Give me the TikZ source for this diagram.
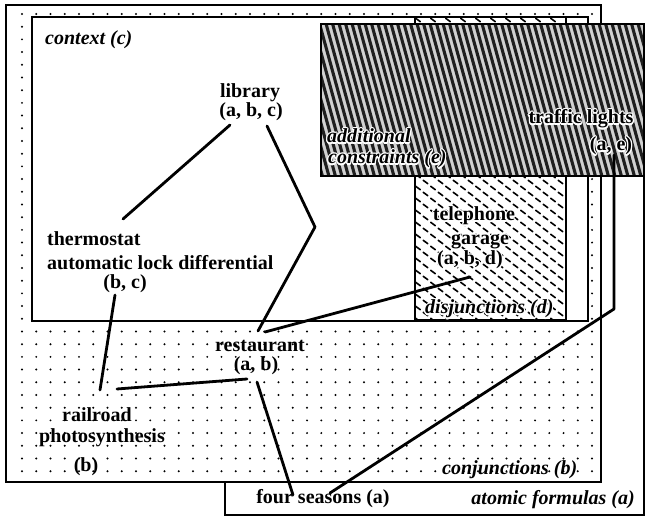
\documentclass[tikz,border=0pt]{standalone}
\usepackage{fontspec}
\setmainfont{Liberation Serif}
\usepackage[copies]{contour}
\contourlength{1.1pt}
\begin{document}
\begin{tikzpicture}[x=1pt,y=-1pt,
  txt/.style={font=\fontsize{20}{20}\selectfont\bfseries, inner sep=0pt},
  boxlbl/.style={font=\fontsize{20}{20}\selectfont\bfseries\itshape, inner sep=0pt},
  link/.style={line width=2.8pt, line cap=round, line join=round},
  frame/.style={draw, line width=2pt, fill=white},
  dot/.style={fill=black}]
\useasboundingbox (0,0) rectangle (646,518);

% atomic formulas (a): the outermost set, partly hidden
\draw[frame, line width=2.6pt] (225,100) rectangle (644,515);

% conjunctions (b): dotted set
\draw[frame] (6,5) rectangle (601,482);
\begin{scope}
  \clip (7,6) rectangle (600,481);
  \foreach \i in {0,...,40}
    \foreach \j in {0,...,36}
      \fill[dot] (22+14.25*\i, 14+12.7*\j) circle (1.1pt);
\end{scope}

% context (c)
\draw[frame] (32,17) rectangle (588,321);

% disjunctions (d): short slanted dashes
\draw[frame] (415,17) rectangle (566,320);
\begin{scope}
  \clip (416,18) rectangle (565,319);
  \foreach \i in {0,...,20}
    \foreach \j in {0,...,26} {
      \pgfmathsetmacro\px{418+7.5*\i}
      \pgfmathsetmacro\py{20+12*\j+6*mod(\i,2)}
      \draw[line width=1.6pt, line cap=round] (\px-2.3,\py-1.7) -- (\px+2.3,\py+1.7);
    }
\end{scope}

% additional constraints (e): dense striped texture
\fill[black!18] (321,24) rectangle (644,176);
\begin{scope}
  \clip (321,24) rectangle (644,176);
  \foreach \x in {260,266.5,...,650}
    \draw[line width=3.1pt, black!88] (\x,20) -- (\x+44,180);
\end{scope}
\draw[line width=2pt] (321,24) rectangle (644,176);

% set labels
\node[boxlbl, anchor=base west] (ctx) at (45,45) {context (c)};
\node[boxlbl, anchor=base west] (conj) at (442,475) {conjunctions (b)};
\node[boxlbl, anchor=base east] (atom) at (635,505) {atomic formulas (a)};
\node[boxlbl, anchor=base west] (disj) at (425,314) {\contour{white}{disjunctions (d)}};
\node[boxlbl, anchor=base west] (addl1) at (327,143) {\contour{white}{additional}};
\node[boxlbl, anchor=base west] (addl2) at (328,164) {\contour{white}{constraints (e)}};

% concepts
\node[txt, anchor=base] (lib) at (250,98) {library};
\node[txt, anchor=base] (libset) at (251,117) {(a, b, c)};

\node[txt, anchor=base west] (therm) at (47,246) {thermostat};
\node[txt, anchor=base west] (diff) at (47,270) {automatic lock differential};
\node[txt, anchor=base] (thermset) at (125,289) {(b, c)};

\node[txt, anchor=base] (rest) at (260,352) {restaurant};
\node[txt, anchor=base] (restset) at (256,371) {(a, b)};

\node[txt, anchor=base] (rail) at (97,422) {railroad};
\node[txt, anchor=base] (photo) at (102,443) {photosynthesis};
\node[txt, anchor=base] (railset) at (86,472) {(b)};

\node[txt, anchor=base] (tel) at (474,221) {\contour{white}{telephone}};
\node[txt, anchor=base] (gar) at (480,245) {\contour{white}{garage}};
\node[txt, anchor=base] (telset) at (470,265) {\contour{white}{(a, b, d)}};

\node[txt, anchor=base] (seasons) at (323,504) {four seasons (a)};

\node[txt, anchor=base] (traffic) at (581,124) {\contour{white}{traffic lights}};
\node[txt, anchor=base] (trafficset) at (611,151) {\contour{white}{(a, e)}};

% connector end points beside the labels
\coordinate (libL) at (230,125);
\coordinate (libR) at (267,126);
\coordinate (bend) at (315,227);
\coordinate (thermT) at (123,219);
\coordinate (thermB) at (115,295);
\coordinate (railT) at (100,390);
\coordinate (railR) at (117,389);
\coordinate (restL) at (247,379);
\coordinate (restT) at (258,331);
\coordinate (restTR) at (265,332);
\coordinate (restB) at (257,382);
\coordinate (telL) at (470,277);
\coordinate (seasL) at (293,495);
\coordinate (seasR) at (330,493);
\coordinate (elbow) at (614,309);
\coordinate (trafB) at (614,155);

% connectors
\draw[link] (libL) -- (thermT);
\draw[link] (libR) -- (bend) -- (restT);
\draw[link] (thermB) -- (railT);
\draw[link] (railR) -- (restL);
\draw[link] (restTR) -- (telL);
\draw[link] (restB) -- (seasL);
\draw[link] (seasR) -- (elbow) -- (trafB);
\end{tikzpicture}
\end{document}
